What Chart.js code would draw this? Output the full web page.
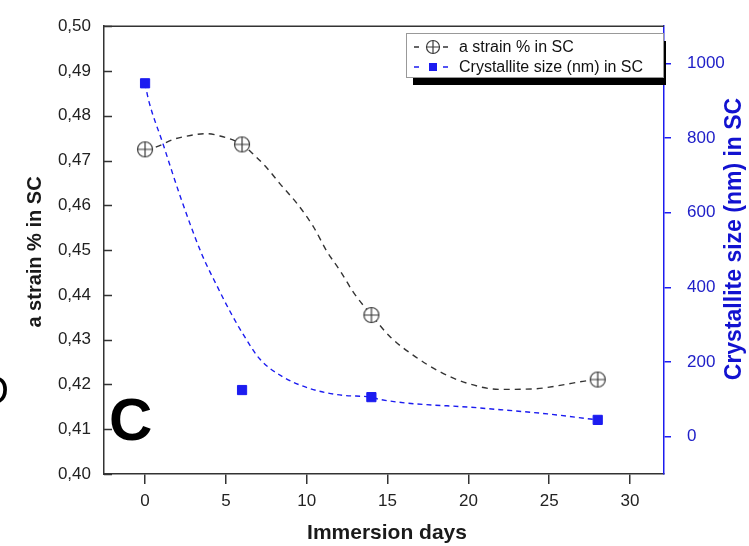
<!DOCTYPE html>
<html>
<head>
<meta charset="utf-8">
<script src="https://cdn.jsdelivr.net/npm/chart.js@4"></script>
<style>
  html, body { margin: 0; padding: 0; background: #fff; }
  #wrap { width: 749px; height: 546px; }
</style>
</head>
<body>
<div id="wrap"><canvas id="chart" width="749" height="546"></canvas></div>
<script>
const FONT = '"Liberation Sans", Arial, sans-serif';

// measured points
const days = [0, 6, 14, 28];
const strain = [0.4725, 0.4736, 0.4355, 0.4211];
const crystSize = [947, 125, 106, 45];

// dashed fit curves
const strainCurveDays = [0, 0.74, 1.73, 2.8, 3.8, 4.5, 6, 6.7, 7.5, 8.35, 9.4, 10.4, 11.25, 12.1, 12.9, 14, 15.2, 16.6, 18.2, 19.9, 21.95, 24.0, 25.85, 26.9, 28];
const strainCurve = [0.4725, 0.4731, 0.4747, 0.4756, 0.4760, 0.4756, 0.4736, 0.4714, 0.4685, 0.4648, 0.4604, 0.4553, 0.4497, 0.4452, 0.4405, 0.4355, 0.4305, 0.4265, 0.4229, 0.4203, 0.4189, 0.4190, 0.4199, 0.4206, 0.4211];
const crystCurveDays = [0, 0.2, 1.1, 2.2, 3.5, 4.45, 5.3, 6.1, 7.1, 8.5, 10.2, 12.2, 14, 14.5, 20.7, 24.9, 28];
const crystCurve = [947, 905, 786, 641, 490, 404, 332, 272, 208, 161, 129, 111, 106, 100, 77, 61, 45];

// tick labels
const xTicks = [0, 5, 10, 15, 20, 25, 30];
const leftTicks = [0.40, 0.41, 0.42, 0.43, 0.44, 0.45, 0.46, 0.47, 0.48, 0.49, 0.50];
const rightTicks = [0, 200, 400, 600, 800, 1000];

const strainLabel = 'a strain % in SC';
const crystLabel = 'Crystallite size (nm) in SC';
const xTitle = 'Immersion days';
const leftTitle = 'a strain % in SC';
const rightTitle = 'Crystallite size (nm) in SC';

const DARK = '#333';
const BLUE = '#1c1cf0';
const BLUE_TXT = '#2020c8';

function crossCircle(r, color) {
  const c = document.createElement('canvas');
  const s = Math.ceil(r * 2 + 3);
  c.width = s;
  c.height = s;
  const g = c.getContext('2d');
  const m = s / 2;
  g.fillStyle = '#fff';
  g.strokeStyle = color;
  g.lineWidth = 1.2;
  g.beginPath();
  g.arc(m, m, r, 0, Math.PI * 2);
  g.fill();
  g.stroke();
  g.beginPath();
  g.moveTo(m - r, m); g.lineTo(m + r, m);
  g.moveTo(m, m - r); g.lineTo(m, m + r);
  g.stroke();
  return c;
}
const circleMark = crossCircle(7.5, '#3a3a3a');
const circleMarkSmall = crossCircle(6.5, '#3a3a3a');

function pts(xs, ys) {
  return xs.map((x, i) => ({ x: x, y: ys[i] }));
}

// frame top line, inward left ticks, axis titles, panel letters, legend
const extras = {
  id: 'extras',
  afterDraw(chart) {
    const { ctx, chartArea: a } = chart;
    const yL = chart.scales.y;
    ctx.save();

    ctx.strokeStyle = DARK;
    ctx.lineWidth = 1.5;
    ctx.beginPath();
    ctx.moveTo(a.left, a.top);
    ctx.lineTo(a.right, a.top);
    ctx.stroke();

    ctx.beginPath();
    leftTicks.forEach(v => {
      const y = Math.round(yL.getPixelForValue(v)) + 0.5;
      ctx.moveTo(a.left, y);
      ctx.lineTo(a.left + 8, y);
    });
    ctx.stroke();

    // axis titles
    ctx.font = 'bold 21px ' + FONT;
    ctx.textAlign = 'center';
    ctx.textBaseline = 'middle';
    ctx.fillStyle = '#1a1a1a';
    ctx.fillText(xTitle, 387, 533);

    ctx.save();
    ctx.font = 'bold 20px ' + FONT;
    ctx.translate(35, 252);
    ctx.rotate(-Math.PI / 2);
    ctx.fillText(leftTitle, 0, 0);
    ctx.restore();

    ctx.save();
    ctx.fillStyle = '#1212d0';
    ctx.font = 'bold 23px ' + FONT;
    ctx.translate(735, 239);
    ctx.rotate(-Math.PI / 2);
    ctx.fillText(rightTitle, 0, 0);
    ctx.restore();

    // panel letters
    ctx.textAlign = 'left';
    ctx.textBaseline = 'alphabetic';
    ctx.fillStyle = '#000';
    ctx.font = 'bold 60px ' + FONT;
    ctx.fillText('C', 109, 440);
    ctx.font = '40px ' + FONT;
    ctx.fillText('D', -20, 404);

    // legend with drop shadow
    const bx = 406, by = 33, bw = 257, bh = 44;
    ctx.save();
    ctx.beginPath();
    ctx.rect(a.left, a.top, a.right - a.left + 2, a.bottom - a.top);
    ctx.clip();
    ctx.fillStyle = '#000';
    ctx.fillRect(bx + 7, by + 8, bw, bh);
    ctx.restore();
    ctx.fillStyle = '#fff';
    ctx.fillRect(bx, by, bw, bh);
    ctx.strokeStyle = '#999';
    ctx.lineWidth = 1;
    ctx.strokeRect(bx + 0.5, by + 0.5, bw, bh);

    const rows = [
      { y: 47, color: DARK, text: strainLabel, mark: 'circle' },
      { y: 67, color: BLUE, text: crystLabel, mark: 'square' }
    ];
    rows.forEach(r => {
      ctx.strokeStyle = r.color;
      ctx.lineWidth = 1.5;
      ctx.beginPath();
      ctx.moveTo(414, r.y); ctx.lineTo(419, r.y);
      ctx.moveTo(443, r.y); ctx.lineTo(448, r.y);
      ctx.stroke();
      if (r.mark === 'circle') {
        ctx.drawImage(circleMarkSmall, 433 - circleMarkSmall.width / 2, r.y - circleMarkSmall.height / 2);
      } else {
        ctx.fillStyle = BLUE;
        ctx.fillRect(429, r.y - 4, 8, 8);
      }
      ctx.fillStyle = '#111';
      ctx.font = '16px ' + FONT;
      ctx.textBaseline = 'middle';
      ctx.fillText(r.text, 459, r.y + 1);
    });

    ctx.restore();
  }
};

new Chart(document.getElementById('chart'), {
  type: 'line',
  data: {
    datasets: [
      {
        label: strainLabel + ' fit',
        data: pts(strainCurveDays, strainCurve),
        yAxisID: 'y',
        borderColor: DARK,
        borderWidth: 1.4,
        borderDash: [6, 5],
        pointRadius: 0,
        cubicInterpolationMode: 'monotone',
        fill: false,
        order: 2
      },
      {
        label: crystLabel + ' fit',
        data: pts(crystCurveDays, crystCurve),
        yAxisID: 'y2',
        borderColor: BLUE,
        borderWidth: 1.4,
        borderDash: [5, 4],
        pointRadius: 0,
        cubicInterpolationMode: 'monotone',
        fill: false,
        order: 2
      },
      {
        label: strainLabel,
        data: pts(days, strain),
        yAxisID: 'y',
        showLine: false,
        pointStyle: circleMark,
        pointRadius: 8,
        order: 1
      },
      {
        label: crystLabel,
        data: pts(days, crystSize),
        yAxisID: 'y2',
        showLine: false,
        pointStyle: 'rect',
        pointRadius: 6.5,
        pointBackgroundColor: BLUE,
        pointBorderColor: BLUE,
        pointBorderWidth: 1,
        order: 1
      }
    ]
  },
  options: {
    responsive: false,
    animation: false,
    layout: { padding: { top: 20, left: 0, right: 0, bottom: 0 } },
    plugins: {
      legend: { display: false },
      tooltip: { enabled: false }
    },
    scales: {
      x: {
        type: 'linear',
        position: 'bottom',
        min: -2.54,
        max: 32.1,
        afterBuildTicks: s => { s.ticks = xTicks.map(v => ({ value: v })); },
        afterFit: s => { s.height = 72; },
        border: { display: true, color: DARK, width: 1.5 },
        grid: { display: true, drawOnChartArea: false, drawTicks: true, tickLength: 10, color: DARK, lineWidth: 1.5 },
        ticks: { color: '#222', font: { family: FONT, size: 17 }, padding: 7, maxRotation: 0 }
      },
      y: {
        type: 'linear',
        position: 'left',
        min: 0.40,
        max: 0.50,
        afterBuildTicks: s => { s.ticks = leftTicks.map(v => ({ value: v })); },
        afterFit: s => { s.width = 104; },
        border: { display: true, color: DARK, width: 1.5 },
        grid: { display: false },
        ticks: {
          color: '#222',
          font: { family: FONT, size: 17 },
          padding: 5,
          callback: v => v.toFixed(2).replace('.', ',')
        }
      },
      y2: {
        type: 'linear',
        position: 'right',
        min: -100,
        max: 1100,
        afterBuildTicks: s => { s.ticks = rightTicks.map(v => ({ value: v })); },
        afterFit: s => { s.width = 85; },
        border: { display: true, color: BLUE, width: 1.5 },
        grid: { display: true, drawOnChartArea: false, drawTicks: true, tickLength: 7, color: BLUE, lineWidth: 1.5 },
        ticks: { color: BLUE_TXT, font: { family: FONT, size: 17 }, padding: 16, callback: v => String(v) }
      }
    }
  },
  plugins: [extras]
});
</script>
</body>
</html>
